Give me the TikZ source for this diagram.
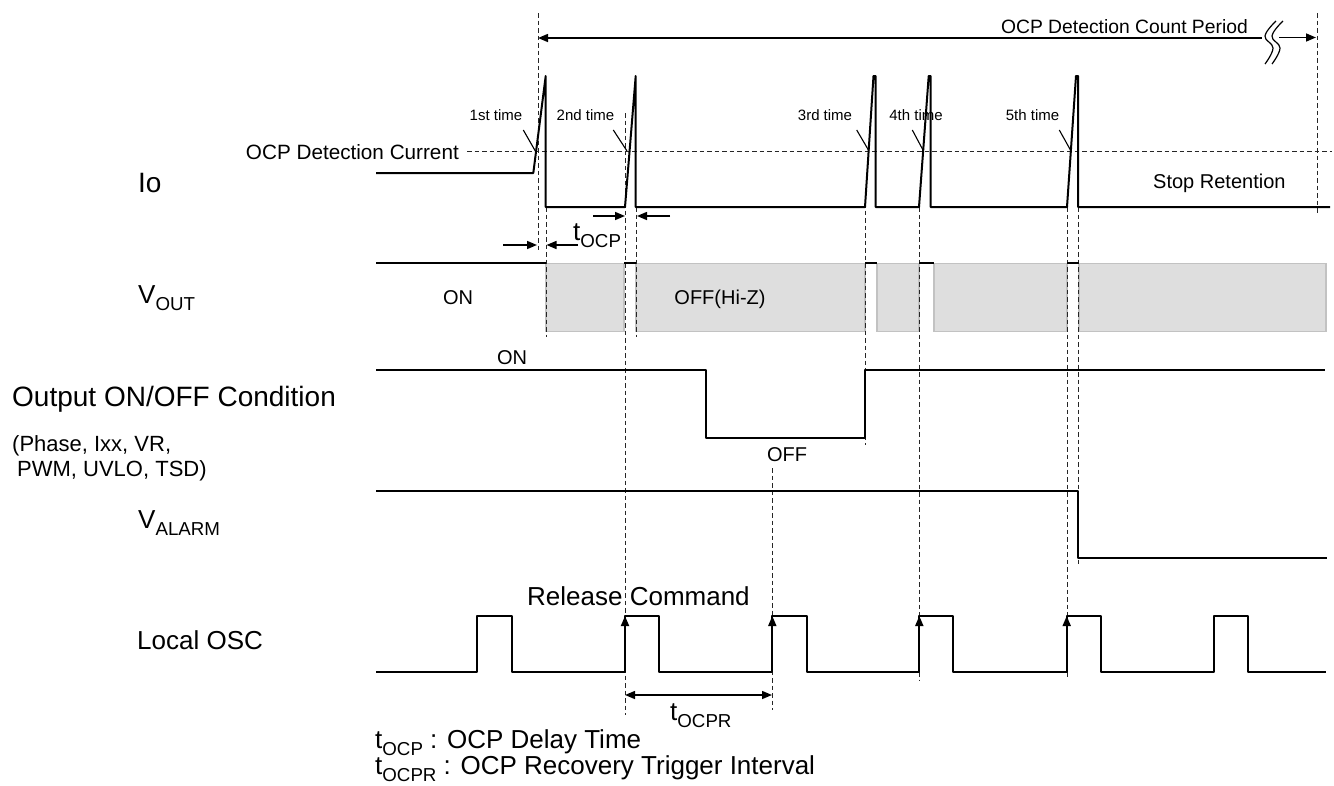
\documentclass[tikz,border=0pt]{standalone}
\usepackage{fontspec}
\setmainfont{Liberation Sans}
\usetikzlibrary{arrows.meta}
\makeatletter
\newcommand{\sbs}[1]{\raisebox{-0.3em}{\fontsize{\strip@pt\dimexpr0.72\dimexpr\f@size pt\relax\relax}{0}\selectfont #1}}
\makeatother
\newcommand{\fsL}{\fontsize{26}{30}\selectfont}
\newcommand{\fsX}{\fontsize{28}{32}\selectfont}
\newcommand{\fsM}{\fontsize{20}{24}\selectfont}
\newcommand{\fsMa}{\fontsize{20.7}{24}\selectfont}
\newcommand{\fsMb}{\fontsize{19.3}{23}\selectfont}
\newcommand{\fsP}{\fontsize{22}{26}\selectfont}
\newcommand{\fsS}{\fontsize{15}{18}\selectfont}
\begin{document}
\begin{tikzpicture}[x=1pt,y=-1pt,
  wave/.style={line width=2pt, line join=round},
  guide/.style={line width=1pt, black!85, dash pattern=on 4.5pt off 3pt},
  thin line/.style={line width=1.1pt},
  arr/.style={line width=1.5pt, -{Triangle[length=10pt,width=8pt]}},
  darr/.style={line width=1.5pt, {Triangle[length=10pt,width=8pt]}-{Triangle[length=10pt,width=8pt]}},
  hiz/.style={fill=black!13, draw=black!24, line width=1.2pt},
  lbl/.style={inner sep=0pt, anchor=base west},
  lblc/.style={inner sep=0pt, anchor=base}]
\useasboundingbox (0,0) rectangle (1334,785);

% ---------- Hi-Z shaded areas ----------
\foreach \a/\b in {546/624, 636/865, 877/919, 934/1067, 1079/1326}
  \draw[hiz] (\a,263.3) rectangle (\b,331.7);

% ---------- dashed guides ----------
\foreach \x/\a/\b in {538/13/252, 546/207/337, 625/113/715, 636/207/337,
                      865/188/445, 919/207/680, 1067/207/677, 1078/207/567,
                      772/468/710, 1317/13/215}
  \draw[guide] (\x,\a) -- (\x,\b);
\draw[guide] (467,151) -- (1332,151);

% ---------- left labels ----------
\node[lbl] (lio) at (138,192) {\fsX Io};
\node[lbl] (lvout) at (138,303) {\fsL V\sbs{OUT}};
\node[lbl] (lcond) at (12,406.7) {\fsX Output ON/OFF Condition};
\node[lbl] (lcond2) at (12,451) {\fsP (Phase, Ixx, VR,};
\node[lbl] (lcond3) at (17,476) {\fsP PWM, UVLO, TSD)};
\node[lbl] (lvalarm) at (138,528) {\fsL V\sbs{ALARM}};
\node[lbl] (losc) at (137,649) {\fsL Local OSC};

% ---------- top count period arrow ----------
\node[inner sep=0pt, anchor=base east] (tperiod) at (1248,33) {\fsMb OCP Detection Count Period};
\coordinate (pstart) at (538,38);
\coordinate (pbreak) at (1262,38);
\coordinate (pres) at (1279,37.5);
\coordinate (pend) at (1316,37.5);
\draw[line width=1.5pt, {Triangle[length=10pt,width=8pt]}-] (pstart) -- (pbreak);
\draw[arr] (pres) -- (pend);
\draw[line width=1.2pt] plot[smooth, tension=0.7] coordinates {(1276,21) (1265,36) (1273,48) (1265,64)};
\draw[line width=1.2pt] plot[smooth, tension=0.7] coordinates {(1283,21) (1272,36) (1280,48) (1272,64)};

% ---------- Io ----------
\node[inner sep=0pt, anchor=base east] (tocpcur) at (459,159) {\fsMa OCP Detection Current};
\node[lbl] (tstop) at (1153,188) {\fsM Stop Retention};
\draw[wave] (376,173) -- (533.3,173) -- (545.7,76) -- (545.7,207) -- (625,207)
  -- (635.7,76) -- (635.7,207) -- (865,207) -- (873.5,76) -- (875.5,76) -- (875.5,207)
  -- (919,207) -- (928.7,76) -- (930.5,76) -- (930.5,207) -- (1067,207)
  -- (1076,76) -- (1078,76) -- (1078,207) -- (1330,207);

\node[lblc] (n1) at (496,120.7) {\fsS 1st time};
\node[lblc] (n2) at (585.5,120.7) {\fsS 2nd time};
\node[lblc] (n3) at (825,120.7) {\fsS 3rd time};
\node[lblc] (n4) at (916,120.7) {\fsS 4th time};
\node[lblc] (n5) at (1032.5,120.7) {\fsS 5th time};
\coordinate (c1) at (535.3,151); \coordinate (c2) at (627,151);
\coordinate (c3) at (869,151); \coordinate (c4) at (923.5,151);
\coordinate (c5) at (1071,151);
\draw[thin line] (523.3,130) -- (c1);
\draw[thin line] (613.3,130) -- (c2);
\draw[thin line] (856.7,130) -- (c3);
\draw[thin line] (912.3,130) -- (c4);
\draw[thin line] (1059.3,130) -- (c5);

% ---------- tOCP markers ----------
\draw[arr] (593,216) -- (625,216);
\draw[arr] (670,216) -- (637,216);
\draw[arr] (503,245) -- (537,245);
\draw[arr] (578,245) -- (546.5,245);
\node[lbl] (ttocp) at (573,240) {\fsL t\sbs{OCP}};

% ---------- VOUT ----------
\foreach \a/\b in {376/546, 624/636, 865/877, 919/934, 1067/1079}
  \draw[wave] (\a,263.3) -- (\b,263.3);
\node[lblc] (von) at (458,304) {\fsM ON};
\node[lblc] (voff) at (720,304) {\fsM OFF(Hi-Z)};

% ---------- Output ON/OFF condition ----------
\draw[wave] (376,370) -- (706,370) -- (706,437.7) -- (864.5,437.7) -- (864.5,370) -- (1325,370);
\node[lblc] (con) at (512,364) {\fsM ON};
\node[lblc] (coff) at (787,461.7) {\fsM OFF};

% ---------- VALARM ----------
\draw[wave] (376,491) -- (1077.7,491) -- (1077.7,558.3) -- (1327,558.3);

% ---------- Local OSC ----------
\draw[wave, line width=1.8pt] (376,671.7) -- (477.3,671.7) -- (477.3,615.7) -- (512.3,615.7) -- (512.3,671.7)
  -- (625,671.7) -- (625,615.7) -- (659.3,615.7) -- (659.3,671.7)
  -- (772.3,671.7) -- (772.3,615.7) -- (806.7,615.7) -- (806.7,671.7)
  -- (919.3,671.7) -- (919.3,615.7) -- (953.3,615.7) -- (953.3,671.7)
  -- (1066.7,671.7) -- (1066.7,615.7) -- (1100.7,615.7) -- (1100.7,671.7)
  -- (1214,671.7) -- (1214,615.7) -- (1247.7,615.7) -- (1247.7,671.7) -- (1326,671.7);
\foreach \x in {625,772.3,919.3,1066.7}
  \draw[line width=1.8pt, -{Triangle[length=10pt,width=8pt]}] (\x,650) -- (\x,616);
\node[lbl] (trel) at (527,605) {\fsL Release Command};

% ---------- tOCPR ----------
\coordinate (r1) at (625,695); \coordinate (r2) at (772,695);
\draw[darr] (r1) -- (r2);
\node[lbl] (ttocpr) at (670,720) {\fsL t\sbs{OCPR}};

% ---------- legend ----------
\node[lbl] (leg1) at (375,748) {\fsL t\sbs{OCP} : OCP Delay Time};
\node[lbl] (leg2) at (375,774) {\fsL t\sbs{OCPR} : OCP Recovery Trigger Interval};
\end{tikzpicture}
\end{document}
